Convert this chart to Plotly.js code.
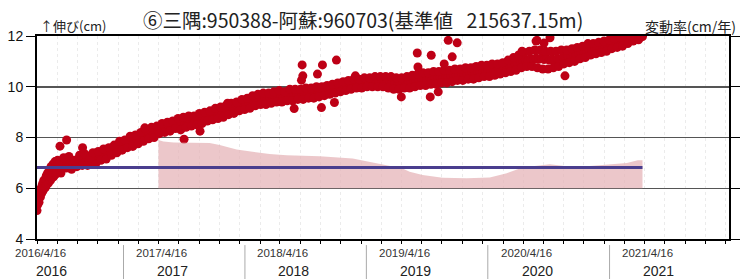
<!DOCTYPE html>
<html><head><meta charset="utf-8">
<script src="https://cdn.plot.ly/plotly-3.0.1.min.js"></script>
<style>html,body{margin:0;padding:0;background:#fff}#chart{width:741px;height:279px}</style>
</head><body><div id="chart"></div>
<script>
const START_DATE = '2016-04-16';
const END_RANGE = '2021-12-26';

// early densely sampled part (every 2 days from start), cm
const earlyStepDays = 2;
const earlyVals = [5.12,5.35,5.55,5.45,5.8,5.65,6.0,5.8,6.15,5.9,6.3,6.0,6.35,6.05,6.5,6.15,
  6.6,6.2,6.45,6.7,6.3,6.85,6.4,6.6,6.95,6.45,6.75,7.05,6.55,6.9,6.65,7.1];

// main part (every 8 days from day 64), cm
const mainStartDay = 64;
const mainStepDays = 8;
const mainVals = [
  6.95,6.6,7.2,6.8,7.25,6.75,7.1,6.85,7.3,6.9,
  7.35,6.9,7.2,7.4,6.95,7.45,7.1,7.55,7.15,7.6,
  7.3,7.7,7.4,7.85,7.5,7.9,7.6,8.05,7.65,8.1,
  7.75,8.2,7.85,8.3,7.95,8.4,8.0,8.45,8.15,8.55,
  8.2,8.6,8.25,8.65,8.35,8.75,8.3,8.8,8.4,8.85,
  8.45,8.85,8.5,8.95,8.55,9.0,8.65,9.05,8.7,9.15,
  8.75,9.2,8.8,9.25,8.9,9.35,8.95,9.4,9.05,9.5,
  9.1,9.55,9.15,9.65,9.25,9.7,9.3,9.75,9.3,9.75,
  9.35,9.8,9.4,9.85,9.4,9.8,9.45,9.9,9.45,9.9,
  9.5,9.9,9.5,9.95,9.55,9.95,9.55,10.0,9.6,10.0,
  9.65,10.05,9.7,10.1,9.75,10.15,9.8,10.2,9.85,10.25,
  9.9,10.3,9.95,10.3,9.95,10.35,10.0,10.35,10.0,10.4,
  10.0,10.4,10.0,10.4,9.95,10.4,9.9,10.35,9.9,10.35,
  9.95,10.4,9.95,10.45,10.0,10.5,10.05,10.55,10.05,10.55,
  10.1,10.6,10.1,10.6,10.15,10.65,10.15,10.65,10.2,10.7,
  10.25,10.7,10.25,10.75,10.3,10.75,10.3,10.8,10.35,10.85,
  10.4,10.85,10.4,10.9,10.45,10.9,10.5,10.95,10.55,11.05,
  10.6,11.15,10.65,11.25,10.75,11.35,10.8,11.4,10.8,11.45,
  10.75,11.45,10.7,11.4,10.7,11.4,10.75,11.4,10.8,11.45,
  10.9,11.45,10.95,11.5,11.0,11.55,11.1,11.6,11.15,11.7,
  11.25,11.7,11.3,11.75,11.35,11.8,11.4,11.85,11.5,11.9,
  11.55,11.95,11.6,12.0,11.7,12.0,11.8,12.0,11.85,12.0];

// middle of the band (every 8 days from day 68), cm
const midStartDay = 68;
const midStepDays = 8;
const midVals = [
  6.8,6.9,6.9,7.05,6.95,7.05,6.98,7.1,7.0,7.12,
  7.08,7.15,7.12,7.2,7.18,7.25,7.26,7.35,7.36,7.46,
  7.48,7.55,7.55,7.64,7.64,7.75,7.76,7.84,7.83,7.93,
  7.93,8.03,8.03,8.12,8.11,8.2,8.2,8.28,8.28,8.37,
  8.35,8.43,8.4,8.48,8.45,8.53,8.5,8.58,8.55,8.63,
  8.61,8.69,8.68,8.76,8.73,8.81,8.8,8.88,8.86,8.95,
  8.93,9.01,8.98,9.07,9.06,9.15,9.13,9.22,9.21,9.3,
  9.28,9.37,9.36,9.45,9.43,9.49,9.46,9.53,9.5,9.57,
  9.54,9.6,9.57,9.63,9.59,9.65,9.61,9.68,9.64,9.7,
  9.66,9.73,9.69,9.75,9.72,9.78,9.75,9.81,9.77,9.83,
  9.81,9.89,9.87,9.95,9.93,10.0,9.97,10.04,10.01,10.08,
  10.05,10.12,10.08,10.15,10.11,10.18,10.14,10.2,10.16,10.22,
  10.18,10.23,10.18,10.22,10.16,10.2,10.14,10.18,10.13,10.18,
  10.14,10.21,10.18,10.25,10.22,10.29,10.26,10.33,10.29,10.35,
  10.31,10.37,10.33,10.39,10.35,10.41,10.38,10.44,10.4,10.46,
  10.43,10.49,10.45,10.52,10.48,10.55,10.52,10.58,10.55,10.62,
  10.58,10.65,10.61,10.68,10.64,10.71,10.68,10.75,10.74,10.83,
  10.83,10.93,10.93,11.03,11.01,11.08,11.05,11.11,11.07,11.13,
  11.08,11.13,11.07,11.11,11.05,11.09,11.04,11.11,11.08,11.16,
  11.14,11.22,11.2,11.28,11.26,11.34,11.32,11.4,11.38,11.46,
  11.44,11.52,11.49,11.56,11.53,11.61,11.59,11.67,11.65,11.73,
  11.71,11.79,11.77,11.85,11.83,11.91,11.88,11.95,11.93,11.98];

// scattered outlying observations
const outlierDates = ['2016-06-24','2016-07-14','2016-08-31','2017-03-06','2017-07-02','2017-08-19',
  '2017-11-10','2018-05-29','2018-06-22','2018-06-24','2018-06-20','2018-08-07','2018-08-19',
  '2018-08-22','2018-09-27','2018-10-03','2018-11-29','2019-04-16','2019-06-03','2019-06-05',
  '2019-07-12','2019-07-15','2019-08-05','2019-08-23','2019-09-04','2019-09-16','2019-10-01',
  '2020-04-13','2020-05-25','2020-05-28','2020-06-18','2020-07-06','2020-08-20'];
const outlierVals = [7.66,7.9,7.6,8.38,7.93,8.25,
  9.35,9.14,10.86,10.43,10.26,10.5,9.18,
  10.86,9.38,11.05,10.43,9.6,11.33,10.78,
  9.6,11.24,9.8,10.9,11.83,11.18,11.73,
  11.4,11.8,11.83,11.72,11.93,10.43];

// annual rate of change (cm/year)
const rateDates = ['2017-04-16','2017-05-01','2017-06-01','2017-07-10','2017-09-17','2017-10-17',
  '2017-12-07','2018-01-24','2018-03-16','2018-05-06','2018-07-06','2018-08-14','2018-11-21',
  '2019-01-11','2019-03-03','2019-04-20','2019-05-11','2019-06-19','2019-08-18','2019-10-30',
  '2020-01-07','2020-02-27','2020-04-06','2020-05-15','2020-07-05','2020-08-25','2020-10-24',
  '2020-12-23','2021-02-22','2021-03-27','2021-04-10'];
const rateVals = [1.9,1.84,1.8,1.8,1.78,1.7,
  1.53,1.44,1.35,1.3,1.29,1.26,1.17,
  1.04,0.91,0.78,0.65,0.52,0.41,0.39,
  0.42,0.59,0.78,0.87,0.95,0.87,0.87,
  0.92,1.0,1.1,1.1];
const meanRate = 0.82;

const tickDates = ['2016-04-16','2017-04-16','2018-04-16','2019-04-16','2020-04-16','2021-04-16'];
const tickLabels = ['2016/4/16','2017/4/16','2018/4/16','2019/4/16','2020/4/16','2021/4/16'];
const yearLabels = ['2016','2017','2018','2019','2020','2021'];
const yearBreaks = ['2017-01-01','2018-01-01','2019-01-01','2020-01-01','2021-01-01'];

function dayToDate(d){
  const t = Date.UTC(2016,3,16) + d*86400000;
  return new Date(t).toISOString().slice(0,10);
}
const earlyX = earlyVals.map((v,i)=>dayToDate(i*earlyStepDays));
const mainX = mainVals.map((v,i)=>dayToDate(mainStartDay + i*mainStepDays));
const midX = midVals.map((v,i)=>dayToDate(midStartDay + i*midStepDays));
const lastDate = rateDates[rateDates.length-1];

const RED = 'rgb(190,0,22)';
const FONT = '"Noto Sans CJK JP", "Noto Sans", sans-serif';
const LAT = '"Liberation Sans", Arial, sans-serif';
const mk = {color: RED, size: 9, line:{width:0}};

const traces = [
  {x: rateDates, y: rateVals, yaxis:'y2', type:'scatter', mode:'lines', fill:'tozeroy',
   line:{width:0, color:'rgba(0,0,0,0)'}, fillcolor:'rgba(228,178,182,0.72)', hoverinfo:'skip'},
  {x: [START_DATE, lastDate], y: [meanRate, meanRate], yaxis:'y2', type:'scatter', mode:'lines',
   line:{color:'#4a3e8e', width:3}},
  {x: earlyX, y: earlyVals, type:'scatter', mode:'markers', marker: mk},
  {x: midX, y: midVals, type:'scatter', mode:'markers', marker: mk},
  {x: mainX, y: mainVals, type:'scatter', mode:'markers', marker: mk},
  {x: outlierDates, y: outlierVals, type:'scatter', mode:'markers', marker: mk}
];

const annotations = [
  {text:'↑伸び(cm)', xref:'paper', yref:'paper', x:0.003, y:1.05, xanchor:'left', yanchor:'middle',
   showarrow:false, borderpad:0, font:{family:FONT, size:13, color:'#222'}},
  {text:'変動率(cm/年)', xref:'paper', yref:'paper', x:1.012, y:1.047, xanchor:'right', yanchor:'middle',
   showarrow:false, borderpad:0, font:{family:FONT, size:14, color:'#222'}}
];
tickLabels.forEach((t,i)=>annotations.push({text:t, xref:'x', yref:'paper', x:tickDates[i], xshift:3,
  y:-0.0714, xanchor:'center', yanchor:'middle', showarrow:false, borderpad:0,
  font:{family:LAT, size:11.5, color:'#333'}}));
yearLabels.forEach((t,i)=>annotations.push({text:t, xref:'x', yref:'paper', x:tickDates[i], xshift:14,
  y:-0.1552, xanchor:'center', yanchor:'middle', showarrow:false, borderpad:0,
  font:{family:LAT, size:14, color:'#222'}}));

const shapes = yearBreaks.map(d=>({type:'line', xref:'x', yref:'paper', x0:d, x1:d, y0:-0.03, y1:-0.2,
  line:{color:'#aaa', width:1}}));

const layout = {
  width:741, height:279,
  margin:{l:37, r:12, t:36, b:40},
  paper_bgcolor:'#fff', plot_bgcolor:'#fff',
  showlegend:false,
  font:{family:FONT, color:'#222'},
  title:{text:'⑥三隅:950388-阿蘇:960703(基準値\u2002\u2009215637.15m)', x:0.49, xanchor:'center',
         y:0.925, yanchor:'middle', yref:'container', font:{family:FONT, size:19.5, color:'#222'}},
  xaxis:{type:'date', range:[START_DATE, END_RANGE], tickvals:tickDates, showticklabels:false,
         ticks:'outside', ticklen:3, tickcolor:'#000', showline:true, linecolor:'#000', linewidth:2,
         mirror:true, showgrid:true, gridcolor:'#ebebeb', griddash:'dot', zeroline:false,
         minor:{tick0:START_DATE, dtick:'M2', ticks:'outside', ticklen:3, tickcolor:'#000',
                showgrid:true, gridcolor:'#ebebeb', griddash:'dot'}},
  yaxis:{range:[4,12], tickvals:[4,6,8,10,12], ticks:'outside', ticklen:9, tickcolor:'#000',
         showline:true, linecolor:'#000', linewidth:2, mirror:'ticks', showgrid:true,
         gridcolor:'#555', gridwidth:1.5, zeroline:false, tickfont:{family:LAT, size:14, color:'#111'}},
  yaxis2:{overlaying:'y', range:[-2,6], visible:false, showgrid:false, zeroline:false},
  annotations: annotations,
  shapes: shapes
};
Plotly.newPlot('chart', traces, layout, {staticPlot:true, displayModeBar:false});
</script></body></html>
